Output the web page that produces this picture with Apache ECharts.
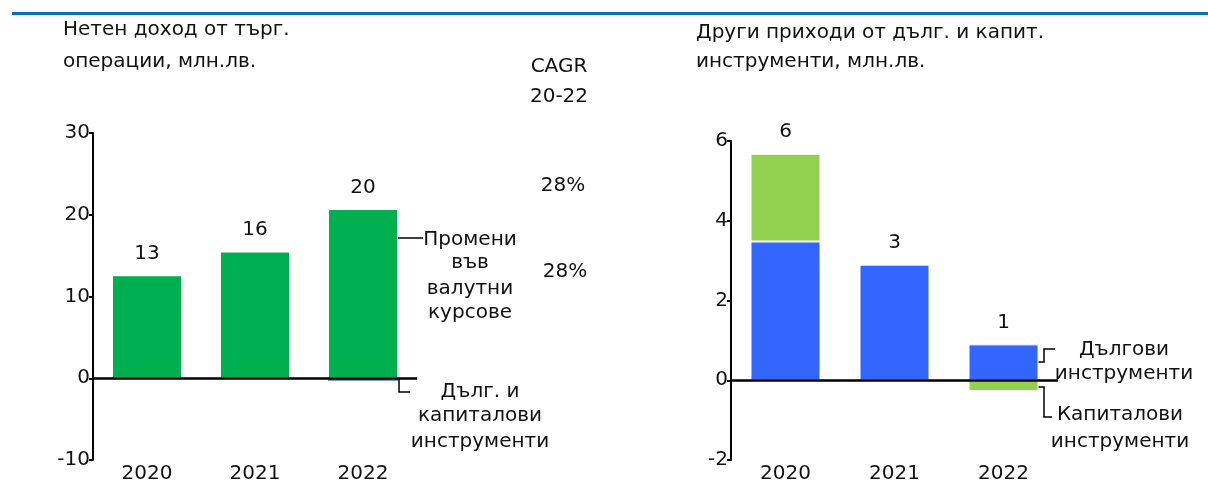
<!DOCTYPE html>
<html>
<head>
    <meta charset="utf-8">
    <title>ECharts</title>
    <script src="https://cdn.jsdelivr.net/npm/echarts@6/dist/echarts.min.js"></script>
</head>
<body style="margin:0">
    <div id="main" style="width: 1208px;height:495px;"></div>
    <script type="text/javascript">
        // данни
        var categories = ['2020', '2021', '2022'];
        // ляв график: нетен доход от търг. операции
        var fxChanges = [12.6, 15.5, 20.7];
        var debtEquityLeft = [0, 0, -0.3];
        // десен график: други приходи
        var debtInstr = [3.48, 2.9, 0.9];
        var equityInstr = [2.2, 0, -0.27];
        var cagrLabels = ['28%', '28%'];
        var leftAxis = { min: -10, max: 30, interval: 10 };
        var rightAxis = { min: -2, max: 6, interval: 2 };

        var FONT = 'DejaVu Sans';
        var FS = 20;
        var TXT = '#111';

        function sums(a, b) {
            return a.map(function (v, i) { return v + b[i]; });
        }
        function posTop(a, b) {
            return a.map(function (v, i) { return Math.max(v, 0) + Math.max(b[i], 0); });
        }
        var leftTotals = sums(fxChanges, debtEquityLeft);
        var rightTotals = sums(debtInstr, equityInstr);

        function txt(x, y, s, align) {
            return {
                type: 'text', x: x, y: y,
                style: { text: s, font: FS + 'px "' + FONT + '"', fill: TXT, align: align || 'center', verticalAlign: 'middle' }
            };
        }
        function poly(pts) {
            return {
                type: 'polyline',
                shape: { points: pts },
                style: { stroke: '#000', lineWidth: 1.5, fill: null }
            };
        }

        var myChart = echarts.init(document.getElementById('main'));

        var xAx = function (idx) {
            return {
                type: 'category', gridIndex: idx, data: categories,
                axisLine: { show: false }, axisTick: { show: false },
                axisLabel: { color: TXT, fontFamily: FONT, fontSize: FS, margin: 4 }
            };
        };
        var yAx = function (idx, r) {
            return {
                type: 'value', gridIndex: idx, min: r.min, max: r.max, interval: r.interval,
                splitLine: { show: false },
                axisLine: { show: true, lineStyle: { color: '#000', width: 2 } },
                axisTick: { show: true, length: 4, lineStyle: { color: '#000', width: 2 } },
                axisLabel: { color: TXT, fontFamily: FONT, fontSize: FS, margin: 3 }
            };
        };
        var zeroLine = {
            silent: true, symbol: 'none', label: { show: false },
            lineStyle: { color: '#000', width: 2.5, type: 'solid' },
            emphasis: { disabled: true },
            data: [{ yAxis: 0 }]
        };
        var barBase = { type: 'bar', barWidth: 70 };
        var totalLabel = function (idx, tops, totals) {
            return {
                type: 'scatter', xAxisIndex: idx, yAxisIndex: idx, symbolSize: 1,
                itemStyle: { opacity: 0 }, silent: true, z: 5,
                data: tops,
                label: {
                    show: true, position: 'top', distance: 11, color: TXT, opacity: 1,
                    fontFamily: FONT, fontSize: FS,
                    formatter: function (p) { return String(Math.round(totals[p.dataIndex])); }
                }
            };
        };

        var option = {
            animation: false,
            grid: [
                { left: 93, width: 324, top: 133, height: 327 },
                { left: 731, width: 327, top: 141, height: 319 }
            ],
            xAxis: [xAx(0), xAx(1)],
            yAxis: [yAx(0, leftAxis), yAx(1, rightAxis)],
            series: [
                Object.assign({}, barBase, {
                    name: 'Промени във валутни курсове', xAxisIndex: 0, yAxisIndex: 0, stack: 'l',
                    itemStyle: { color: '#00B050', borderColor: '#fff', borderWidth: 1 },
                    data: fxChanges, markLine: zeroLine
                }),
                Object.assign({}, barBase, {
                    name: 'Дълг. и капиталови инструменти', xAxisIndex: 0, yAxisIndex: 0, stack: 'l',
                    itemStyle: { color: '#4F81BD', borderWidth: 0 },
                    data: debtEquityLeft
                }),
                Object.assign({}, barBase, {
                    name: 'Дългови инструменти', xAxisIndex: 1, yAxisIndex: 1, stack: 'r',
                    itemStyle: { color: '#3366FF', borderColor: '#fff', borderWidth: 1 },
                    data: debtInstr, markLine: zeroLine
                }),
                Object.assign({}, barBase, {
                    name: 'Капиталови инструменти', xAxisIndex: 1, yAxisIndex: 1, stack: 'r',
                    itemStyle: { color: '#92D050', borderColor: '#fff', borderWidth: 1 },
                    data: equityInstr
                }),
                totalLabel(0, posTop(fxChanges, debtEquityLeft), leftTotals),
                totalLabel(1, posTop(debtInstr, equityInstr), rightTotals)
            ],
            graphic: [
                { type: 'rect', shape: { x: 12, y: 12, width: 1196, height: 3 }, style: { fill: '#0070C0' } },
                txt(63, 30, 'Нетен доход от търг.', 'left'),
                txt(63, 62, 'операции, млн.лв.', 'left'),
                txt(696, 33, 'Други приходи от дълг. и капит.', 'left'),
                txt(696, 62, 'инструменти, млн.лв.', 'left'),
                txt(559, 67, 'CAGR'),
                txt(559, 97, '20-22'),
                txt(563, 186, cagrLabels[0]),
                txt(565, 272, cagrLabels[1]),
                // анотации ляво
                txt(470, 240, 'Промени'),
                txt(470, 263, 'във'),
                txt(470, 289, 'валутни'),
                txt(470, 313, 'курсове'),
                poly([[394, 238], [423, 238]]),
                txt(480, 392, 'Дълг. и'),
                txt(480, 416, 'капиталови'),
                txt(480, 442, 'инструменти'),
                poly([[399, 378], [399, 392], [410, 392]]),
                // анотации дясно
                txt(1124, 350, 'Дългови'),
                txt(1124, 374, 'инструменти'),
                txt(1120, 415, 'Капиталови'),
                txt(1120, 442, 'инструменти'),
                poly([[1029, 362], [1044, 362], [1044, 349], [1055, 349]]),
                poly([[1029, 387], [1044, 387], [1044, 417], [1052, 417]])
            ]
        };
        myChart.setOption(option);
    </script>
</body>
</html>
